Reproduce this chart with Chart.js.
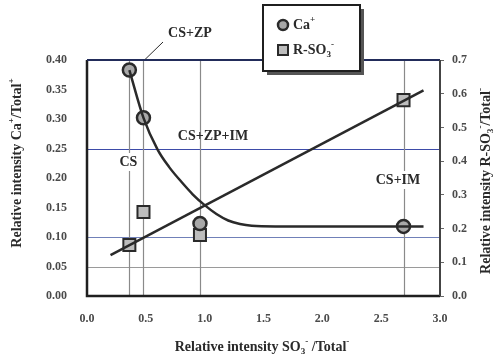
<!DOCTYPE html>
<html>
<head>
<meta charset="utf-8">
<script src="https://cdn.jsdelivr.net/npm/chart.js@4"></script>
<style>
  body { margin: 0; background: #fff; }
  #wrap { position: relative; width: 500px; height: 358px; }
</style>
</head>
<body>
<div id="wrap"><canvas id="chart" width="500" height="358"></canvas></div>
<script>
// measured points (x = SO3-/Total-)
const xPoints = [0.36, 0.48, 0.96, 2.69];
const caPoints = [0.383, 0.302, 0.123, 0.118];     // left axis
const rso3Points = [0.151, 0.249, 0.181, 0.581];   // right axis

// fitted curves
const caCurveX = [0.36, 0.48, 0.6, 0.7, 0.8, 0.9, 1.0, 1.1, 1.2, 1.3, 1.4, 1.6, 2.0, 2.86];
const caCurveY = [0.383, 0.302, 0.248, 0.218, 0.194, 0.172, 0.154, 0.139, 0.128, 0.122, 0.119, 0.118, 0.118, 0.118];
const rso3LineX = [0.2, 2.86];
const rso3LineY = [0.121, 0.61];

// guide lines
const hGuides = [0.25, 0.10, 0.05];
const hGuideColors = ['#3d4ba8', '#7080b8', '#9a9a9a'];

// region labels
const regionLabels = ['CS', 'CS+ZP', 'CS+ZP+IM', 'CS+IM'];

const serif = '"Liberation Serif", "DejaVu Serif", serif';
const dark = '#2a2a2a';

function pts(xs, ys) {
    return xs.map((x, i) => ({ x: x, y: ys[i] }));
}

// draw text with superscript / subscript parts
function richText(ctx, parts, x, y, size, align) {
    let total = 0;
    parts.forEach(p => {
        ctx.font = 'bold ' + (p.sup || p.sub ? size * 0.65 : size) + 'px ' + serif;
        p.w = ctx.measureText(p.t).width;
        total += p.w;
    });
    let cx = align === 'center' ? x - total / 2 : x;
    ctx.textBaseline = 'middle';
    ctx.textAlign = 'left';
    parts.forEach(p => {
        ctx.font = 'bold ' + (p.sup || p.sub ? size * 0.65 : size) + 'px ' + serif;
        let dy = p.sup ? -size * 0.35 : p.sub ? size * 0.3 : 0;
        ctx.fillText(p.t, cx, y + dy);
        cx += p.w;
    });
}

const decor = {
    id: 'decor',
    beforeDatasetsDraw(chart) {
        const ctx = chart.ctx;
        const area = chart.chartArea;
        const xs = chart.scales.x, yl = chart.scales.y;
        ctx.save();
        // horizontal guides
        hGuides.forEach((v, i) => {
            const py = Math.round(yl.getPixelForValue(v)) + 0.5;
            ctx.strokeStyle = hGuideColors[i];
            ctx.lineWidth = 1;
            ctx.beginPath();
            ctx.moveTo(area.left, py);
            ctx.lineTo(area.right, py);
            ctx.stroke();
        });
        // vertical guides through measured points
        xPoints.forEach(v => {
            const px = Math.round(xs.getPixelForValue(v)) + 0.5;
            ctx.strokeStyle = '#8a8a8a';
            ctx.lineWidth = 1.2;
            ctx.beginPath();
            ctx.moveTo(px, area.top);
            ctx.lineTo(px, area.bottom);
            ctx.stroke();
        });
        // region labels with white background
        ctx.fillStyle = dark;
        const lab = (t, x, y, bg) => {
            ctx.font = 'bold 14px ' + serif;
            const w = ctx.measureText(t).width;
            if (bg) {
                ctx.fillStyle = '#fff';
                ctx.fillRect(x - w / 2 - 3, y - 9, w + 6, 18);
            }
            ctx.fillStyle = dark;
            ctx.textAlign = 'center';
            ctx.textBaseline = 'middle';
            ctx.fillText(t, x, y);
        };
        lab(regionLabels[0], xs.getPixelForValue(xPoints[0]) - 1, 162, true);
        lab(regionLabels[2], 213, 136, false);
        lab(regionLabels[3], 398, 180, true);
        lab(regionLabels[1], 190, 33, false);
        // leader line for CS+ZP
        ctx.strokeStyle = dark;
        ctx.lineWidth = 1;
        ctx.beginPath();
        ctx.moveTo(163, 42);
        ctx.lineTo(xs.getPixelForValue(xPoints[1]) + 1, area.top);
        ctx.stroke();
        ctx.restore();
    },
    afterDatasetsDraw(chart) {
        const ctx = chart.ctx;
        const a = chart.chartArea;
        ctx.save();
        // frame
        ctx.lineWidth = 2.5;
        ctx.strokeStyle = '#1f1f1f';
        ctx.beginPath();
        ctx.moveTo(a.left, a.top); ctx.lineTo(a.left, a.bottom); ctx.lineTo(a.right, a.bottom);
        ctx.stroke();
        ctx.lineWidth = 2;
        ctx.strokeStyle = '#222c5a';
        ctx.beginPath(); ctx.moveTo(a.left, a.top); ctx.lineTo(a.right, a.top); ctx.stroke();
        ctx.strokeStyle = '#444';
        ctx.beginPath(); ctx.moveTo(a.right, a.top); ctx.lineTo(a.right, a.bottom); ctx.stroke();

        // axis titles
        ctx.fillStyle = dark;
        ctx.save();
        ctx.translate(17, 163);
        ctx.rotate(-Math.PI / 2);
        richText(ctx, [{ t: 'Relative intensity Ca' }, { t: '+', sup: true }, { t: '/Total' }, { t: '+', sup: true }], 0, 0, 14, 'center');
        ctx.restore();
        ctx.save();
        ctx.translate(486, 181);
        ctx.rotate(-Math.PI / 2);
        richText(ctx, [{ t: 'Relative intensity R-SO' }, { t: '3', sub: true }, { t: '-', sup: true }, { t: '/Total' }, { t: '-', sup: true }], 0, 0, 14, 'center');
        ctx.restore();
        richText(ctx, [{ t: 'Relative intensity SO' }, { t: '3', sub: true }, { t: '-', sup: true }, { t: ' /Total' }, { t: '-', sup: true }], 262, 347, 14, 'center');

        // legend box
        const lx = 263, ly = 5, lw = 97, lh = 66;
        ctx.fillStyle = '#555';
        ctx.fillRect(lx + 4, ly + 4, lw, lh);
        ctx.fillStyle = '#fff';
        ctx.fillRect(lx, ly, lw, lh);
        ctx.strokeStyle = '#1f1f1f';
        ctx.lineWidth = 2;
        ctx.strokeRect(lx, ly, lw, lh);
        // legend markers
        ctx.fillStyle = '#a8a8a8';
        ctx.strokeStyle = '#2a2a2a';
        ctx.lineWidth = 2.5;
        ctx.beginPath(); ctx.arc(283, 25, 5, 0, Math.PI * 2); ctx.fill(); ctx.stroke();
        ctx.fillStyle = '#bdbdbd';
        ctx.lineWidth = 2;
        ctx.fillRect(278, 45, 10, 10); ctx.strokeRect(278, 45, 10, 10);
        ctx.fillStyle = dark;
        richText(ctx, [{ t: chart.data.datasets[2].label }, { t: '+', sup: true }], 293, 25, 14, 'left');
        richText(ctx, [{ t: 'R-SO' }, { t: '3', sub: true }, { t: '-', sup: true }], 293, 50, 14, 'left');
        ctx.restore();
    }
};

const tickFont = { family: serif, size: 12, weight: 'bold' };

new Chart(document.getElementById('chart'), {
    type: 'scatter',
    data: {
        datasets: [
            {
                label: 'Ca fit',
                data: pts(caCurveX, caCurveY),
                showLine: true,
                cubicInterpolationMode: 'monotone',
                borderColor: dark,
                borderWidth: 2.5,
                pointRadius: 0,
                yAxisID: 'y'
            },
            {
                label: 'R-SO3 fit',
                data: pts(rso3LineX, rso3LineY),
                showLine: true,
                borderColor: dark,
                borderWidth: 2.5,
                pointRadius: 0,
                yAxisID: 'y2'
            },
            {
                label: 'Ca',
                data: pts(xPoints, caPoints),
                pointStyle: 'circle',
                pointRadius: 6.5,
                pointBorderWidth: 2.5,
                pointBorderColor: '#2a2a2a',
                pointBackgroundColor: '#a8a8a8',
                yAxisID: 'y'
            },
            {
                label: 'R-SO3-',
                data: pts(xPoints, rso3Points),
                pointStyle: 'rect',
                pointRadius: 8.5,
                pointBorderWidth: 2,
                pointBorderColor: '#2a2a2a',
                pointBackgroundColor: '#bdbdbd',
                yAxisID: 'y2'
            }
        ]
    },
    plugins: [decor],
    options: {
        responsive: false,
        animation: false,
        layout: { padding: { top: 60, left: 0, right: 0, bottom: 0 } },
        plugins: { legend: { display: false }, tooltip: { enabled: false } },
        scales: {
            x: {
                type: 'linear', min: 0, max: 3,
                ticks: { stepSize: 0.5, callback: v => v.toFixed(1), font: tickFont, color: '#4a4a4a', padding: 8 },
                grid: { display: false },
                border: { display: false },
                afterFit: s => { s.height = 62; }
            },
            y: {
                position: 'left', min: 0, max: 0.4,
                ticks: { stepSize: 0.05, callback: v => v.toFixed(2), font: tickFont, color: '#4a4a4a', padding: 12 },
                grid: { display: false },
                border: { display: false },
                afterFit: s => { s.width = 87; }
            },
            y2: {
                position: 'right', min: 0, max: 0.7,
                ticks: { stepSize: 0.1, callback: v => v.toFixed(1), font: tickFont, color: '#4a4a4a', padding: 8 },
                grid: { drawOnChartArea: false, tickLength: 4, color: '#666' },
                border: { display: false },
                afterFit: s => { s.width = 60; }
            }
        }
    }
});
</script>
</body>
</html>
